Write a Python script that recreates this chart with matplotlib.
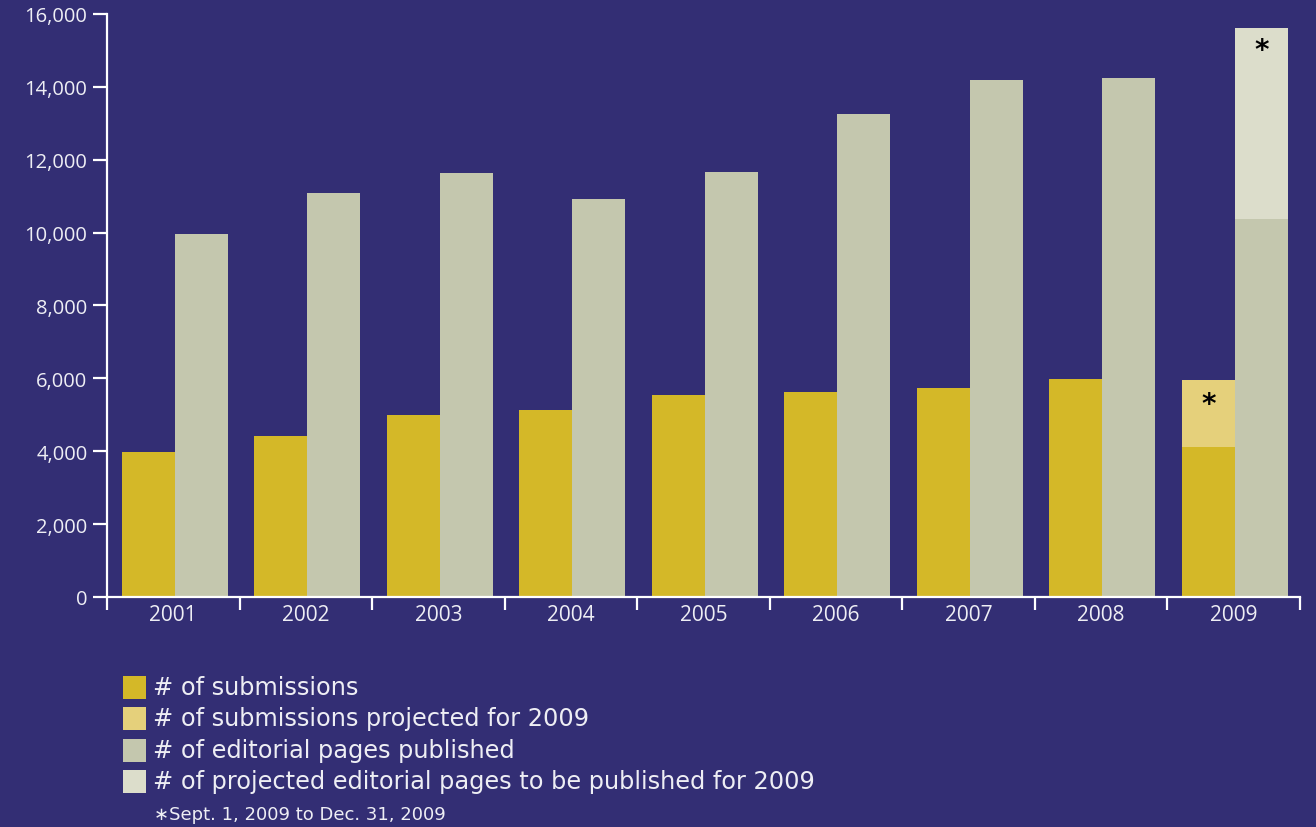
import numpy as np
import matplotlib
matplotlib.use("Agg")
import matplotlib.pyplot as plt
from matplotlib.patches import Rectangle

# data
years = ["2001", "2002", "2003", "2004", "2005", "2006", "2007", "2008", "2009"]
submissions = [3980, 4420, 4990, 5130, 5540, 5630, 5740, 5980, 4120]
pages = [9970, 11090, 11640, 10920, 11660, 13260, 14190, 14240, 10370]
submissions_2009_projected = 5950
pages_2009_projected = 15620

legend_labels = [
    "# of submissions",
    "# of submissions projected for 2009",
    "# of editorial pages published",
    "# of projected editorial pages to be published for 2009",
]
footnote = "\u2217Sept. 1, 2009 to Dec. 31, 2009"

bg = "#332E74"
c_sub = "#D4B828"
c_sub_proj = "#E5D07B"
c_pages = "#C4C7AE"
c_pages_proj = "#DCDDCB"
txt = "#EEEEF4"

plt.rcParams["font.family"] = ["Open Sans", "DejaVu Sans"]

fig = plt.figure(figsize=(13.16, 8.28), dpi=100, facecolor=bg)
ax = fig.add_axes([0.0813, 0.2778, 0.9065, 0.7041])
ax.set_facecolor(bg)

x = np.arange(len(years))
w = 0.4
ax.bar(x - w / 2 + 0.01, submissions, w, color=c_sub, linewidth=0)
ax.bar(x + w / 2 + 0.01, pages, w, color=c_pages, linewidth=0)

# projected parts for 2009 stacked on top of the actual values
ax.bar(x[-1] - w / 2 + 0.01, submissions_2009_projected - submissions[-1], w,
       bottom=submissions[-1], color=c_sub_proj, linewidth=0)
ax.bar(x[-1] + w / 2 + 0.01, pages_2009_projected - pages[-1], w,
       bottom=pages[-1], color=c_pages_proj, linewidth=0)
ax.annotate("*", (x[-1] - w / 2 + 0.01, submissions_2009_projected), xytext=(0, -27),
            textcoords="offset points", ha="center", va="bottom",
            fontsize=20, fontweight="bold", color="black", fontfamily="DejaVu Sans")
ax.annotate("*", (x[-1] + w / 2 + 0.01, pages_2009_projected), xytext=(0, -26),
            textcoords="offset points", ha="center", va="bottom",
            fontsize=20, fontweight="bold", color="black", fontfamily="DejaVu Sans")

ax.set_xlim(-0.5, len(years) - 0.5)
ax.set_ylim(0, 16000)

ax.set_yticks(np.arange(0, 16001, 2000))
ax.set_yticklabels([f"{v:,}" for v in range(0, 16001, 2000)])
ax.set_xticks(np.arange(-0.5, len(years), 1.0))
ax.set_xticklabels([])
ax.set_xticks(x, minor=True)
ax.set_xticklabels(years, minor=True)

ax.tick_params(axis="y", which="major", length=10, width=1.6, color="white",
               labelcolor=txt, labelsize=14.5, pad=4)
ax.tick_params(axis="x", which="major", length=9, width=1.6, color="white")
ax.tick_params(axis="x", which="minor", length=0, labelcolor=txt,
               labelsize=15, pad=5)

for s in ["top", "right"]:
    ax.spines[s].set_visible(False)
for s in ["left", "bottom"]:
    ax.spines[s].set_color("white")
    ax.spines[s].set_linewidth(1.6)

# legend drawn by hand
colors = [c_sub, c_sub_proj, c_pages, c_pages_proj]
W, H = 1316, 828
for i, (lab, c) in enumerate(zip(legend_labels, colors)):
    yc = 688 + i * 31.5
    fig.add_artist(Rectangle((123 / W, 1 - (yc + 11.5) / H), 23 / W, 23 / H,
                             transform=fig.transFigure, color=c, lw=0))
    fig.text(153 / W, 1 - yc / H, lab, color=txt, fontsize=17.3,
             va="center", ha="left", family="DejaVu Sans")
fig.text(154 / W, 1 - 815 / H, footnote, color=txt, fontsize=13,
         va="center", ha="left", family="DejaVu Sans")

plt.savefig("out.png", dpi=100, facecolor=bg)
